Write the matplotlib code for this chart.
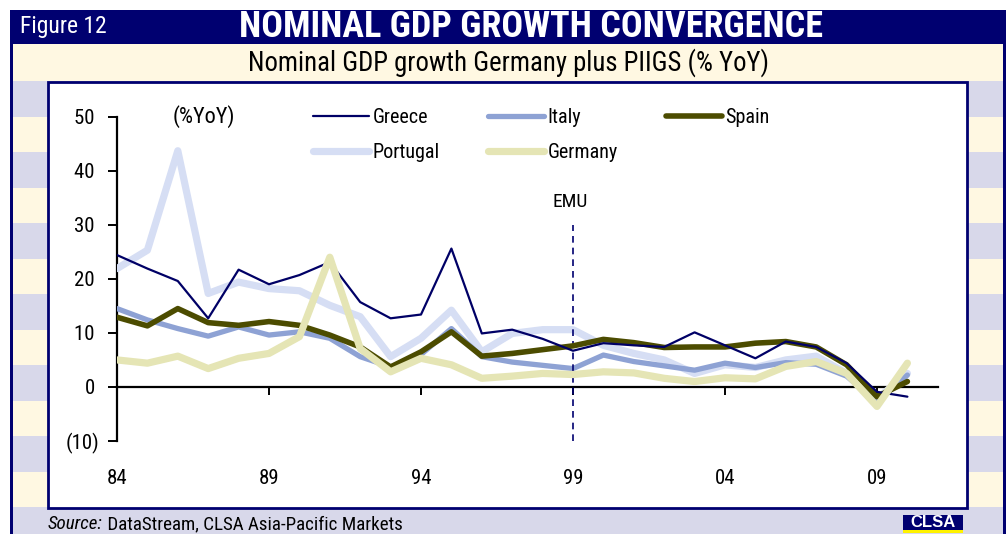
import numpy as np
import matplotlib
matplotlib.use('Agg')
import matplotlib.pyplot as plt
from matplotlib import font_manager as fm
from matplotlib.patches import Rectangle

# pick a narrow sans close to Arial Narrow
have = {f.name for f in fm.fontManager.ttflist}
narrow = 'DejaVu Sans'
for cand in ['Liberation Sans Narrow', 'Arial Narrow', 'Roboto Condensed', 'Pragati Narrow',
             'Archivo Narrow', 'PT Sans Narrow']:
    if cand in have:
        narrow = cand
        break
plt.rcParams['font.family'] = [narrow, 'DejaVu Sans']

# annual nominal GDP growth, % YoY
years = list(range(1984, 2011))
greece = [24.4, 21.9, 19.6, 12.7, 21.7, 19.0, 20.7, 23.1, 15.7, 12.7, 13.4, 25.6, 9.9, 10.6,
          8.9, 6.7, 8.1, 7.7, 7.4, 10.1, 7.7, 5.3, 8.4, 7.4, 4.4, -0.9, -1.8]
italy = [14.5, 12.4, 10.8, 9.4, 11.1, 9.6, 10.2, 9.0, 5.6, 3.7, 6.0, 10.8, 5.6, 4.6,
         4.0, 3.4, 5.9, 4.7, 3.9, 3.1, 4.4, 3.6, 4.5, 4.2, 2.0, -2.8, 2.2]
spain = [12.9, 11.3, 14.5, 11.9, 11.4, 12.1, 11.4, 9.6, 7.4, 3.7, 6.5, 10.2, 5.7, 6.2,
         6.9, 7.6, 8.8, 8.2, 7.3, 7.4, 7.4, 8.1, 8.4, 7.4, 4.1, -1.8, 1.0]
portugal = [21.9, 25.3, 43.7, 17.3, 19.4, 18.2, 17.8, 15.1, 13.0, 5.6, 9.0, 14.2, 6.5, 9.9,
            10.6, 10.6, 7.7, 6.2, 5.0, 2.5, 4.1, 3.6, 5.0, 5.7, 2.5, -2.2, 2.5]
germany = [5.0, 4.4, 5.7, 3.4, 5.3, 6.2, 9.3, 24.0, 7.1, 2.8, 5.3, 4.1, 1.6, 2.0,
           2.5, 2.3, 2.8, 2.6, 1.6, 1.0, 1.7, 1.5, 3.8, 4.7, 2.5, -3.6, 4.4]

xticks = [1984, 1989, 1994, 1999, 2004, 2009]
xlabels = ['84', '89', '94', '99', '04', '09']
yticks = [-10, 0, 10, 20, 30, 40, 50]
ylabels = ['(10)', '0 ', '10 ', '20 ', '30 ', '40 ', '50 ']
emu_year = 1999

navy = '#000070'
lav = '#D8D8EA'
cream = '#FFF8E2'

W, H = 1008, 534
fig = plt.figure(figsize=(W / 100, H / 100), dpi=100, facecolor='white')

# frame / background drawn in pixel coordinates
bg = fig.add_axes([0, 0, 1, 1], zorder=-1)
bg.set_xlim(0, W)
bg.set_ylim(H, 0)
bg.axis('off')
y0, sh = 81, 35.5
k = 0
while y0 + k * sh < H:
    bg.add_patch(Rectangle((13, y0 + k * sh), 990, sh, color=lav if k % 2 == 0 else cream, lw=0))
    k += 1
bg.add_patch(Rectangle((10, 10), 996, 34, color=navy, lw=0))
bg.add_patch(Rectangle((13, 44), 990, 37, color=cream, lw=0))
bg.add_patch(Rectangle((10, 10), 3, H, color=navy, lw=0))
bg.add_patch(Rectangle((1003, 10), 3, H, color=navy, lw=0))
bg.add_patch(Rectangle((48, 82), 918.5, 426, facecolor='white', edgecolor=navy, lw=2))
bg.text(20, 27, 'Figure 12', color='white', fontsize=17, ha='left', va='center')
bg.text(531, 27, 'NOMINAL GDP GROWTH CONVERGENCE', color='white', fontsize=26,
        fontweight='bold', ha='center', va='center')
bg.text(508, 63, 'Nominal GDP growth Germany plus PIIGS (% YoY)', color='black',
        fontsize=19.3, ha='center', va='center')
src = bg.text(48, 524, 'Source:', fontsize=13.7, style='italic', ha='left', va='center')
bg.annotate(' DataStream, CLSA Asia-Pacific Markets', xy=(1, 0.5), xycoords=src,
            fontsize=13.7, ha='left', va='center')
bg.add_patch(Rectangle((903, 515), 60, 15, color=navy, lw=0))
bg.add_patch(Rectangle((903, 530), 60, 2.5, color='#FFF200', lw=0))
bg.text(933, 522.5, 'CLSA', color='white', fontsize=12, fontweight='bold',
        family='Liberation Sans', ha='center', va='center')

ax = fig.add_axes([117 / W, 1 - 441 / H, 820.8 / W, 324.3 / H])
ax.patch.set_alpha(0)
ax.set_xlim(1984, 2011)
ax.set_ylim(-10, 50)

kw = dict(solid_capstyle='round', solid_joinstyle='round')
l_gr, = ax.plot(years, greece, color='#000066', lw=1.6, zorder=6, label='Greece', **kw)
l_it, = ax.plot(years, italy, color='#8EA2D4', lw=3.8, zorder=3, label='Italy', **kw)
l_sp, = ax.plot(years, spain, color='#4C4C00', lw=4.0, zorder=5, label='Spain', **kw)
l_pt, = ax.plot(years, portugal, color='#D6DEF4', lw=5.2, zorder=2.8, label='Portugal', **kw)
l_de, = ax.plot(years, germany, color='#E5E5B5', lw=5.2, zorder=7, label='Germany', **kw)

ax.vlines(emu_year, -10, 30, color=navy, lw=1.2, linestyles=(0, (4, 3)), zorder=4)
ax.text(emu_year - 0.08, 34.2, 'EMU', fontsize=14, ha='center', va='center')
ax.text(1986.85, 50, '(%YoY)', fontsize=16, ha='center', va='center')

for s in ['top', 'right']:
    ax.spines[s].set_visible(False)
ax.spines['bottom'].set_position(('data', 0))
ax.spines['left'].set_linewidth(1.6)
ax.spines['bottom'].set_linewidth(1.6)
ax.spines['bottom'].set_zorder(2)
ax.set_xticks(xticks)
ax.set_xticklabels(xlabels)
ax.set_yticks(yticks)
ax.set_yticklabels(ylabels)
ax.tick_params(axis='x', direction='out', length=6, width=1.4, pad=53, labelsize=15)
ax.tick_params(axis='y', direction='out', length=6.5, width=1.4, pad=6, labelsize=15)

leg = ax.legend(handles=[l_gr, l_pt, l_it, l_de, l_sp], ncol=3, frameon=False,
                loc='upper left', bbox_to_anchor=(313 / W, 1 - 108 / H),
                bbox_transform=fig.transFigure, fontsize=14.5, borderpad=0,
                borderaxespad=0, handlelength=2.8, handletextpad=0.15,
                columnspacing=2.4, labelspacing=0.8)

plt.savefig('out.png', dpi=100)
print('Generated out.png, font', narrow)
